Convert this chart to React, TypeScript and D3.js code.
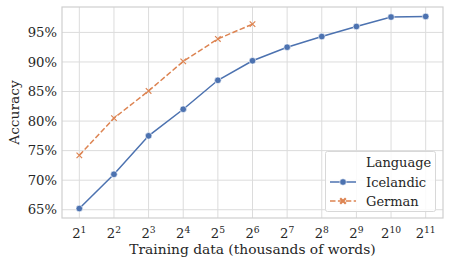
import React, { useEffect, useRef } from 'react';
import * as d3 from 'd3';

const exponents = [1, 2, 3, 4, 5, 6, 7, 8, 9, 10, 11];
const icelandic = [65.2, 71.0, 77.5, 82.0, 86.9, 90.2, 92.5, 94.3, 96.0, 97.6, 97.7];
const german = [74.2, 80.5, 85.1, 90.1, 93.9, 96.4];
const yTicks = [65, 70, 75, 80, 85, 90, 95];

const BLUE = '#4c72b0';
const ORANGE = '#dd8452';
const FONT = '"DejaVu Serif", serif';

export default function App() {
	const ref = useRef<SVGSVGElement>(null);

	useEffect(() => {
		const svg = d3.select(ref.current);
		svg.selectAll('*').remove();

		const margin = { top: 7, right: 6, bottom: 47, left: 62 };
		const width = 449, height = 265;

		const x = d3.scaleLinear().domain([0.5, 11.5]).range([margin.left, width - margin.right]);
		const y = d3.scaleLinear().domain([63.6, 99.3]).range([height - margin.bottom, margin.top]);

		const g = svg.append('g');

		// grid
		g.selectAll('line.vg').data(exponents).enter().append('line')
			.attr('x1', d => x(d)).attr('x2', d => x(d))
			.attr('y1', margin.top).attr('y2', height - margin.bottom)
			.attr('stroke', '#dcdcdc').attr('stroke-width', 1);
		g.selectAll('line.hg').data(yTicks).enter().append('line')
			.attr('y1', d => y(d)).attr('y2', d => y(d))
			.attr('x1', margin.left).attr('x2', width - margin.right)
			.attr('stroke', '#dcdcdc').attr('stroke-width', 1);

		// frame
		g.append('rect')
			.attr('x', margin.left).attr('y', margin.top)
			.attr('width', width - margin.left - margin.right)
			.attr('height', height - margin.top - margin.bottom)
			.attr('fill', 'none').attr('stroke', '#cfcfcf').attr('stroke-width', 1.2);

		// y tick labels
		g.selectAll('text.yt').data(yTicks).enter().append('text')
			.attr('x', margin.left - 5).attr('y', d => y(d)).attr('dy', '0.35em')
			.attr('text-anchor', 'end')
			.style('font', `13.2px ${FONT}`).attr('fill', '#262626')
			.text(d => d + '%');

		// x tick labels 2^n
		const xt = g.selectAll('text.xt').data(exponents).enter().append('text')
			.attr('x', d => x(d)).attr('y', height - margin.bottom + 20)
			.attr('text-anchor', 'middle')
			.style('font', `13.2px ${FONT}`).attr('fill', '#262626');
		xt.append('tspan').text('2');
		xt.append('tspan').attr('dy', -5.5).style('font-size', '9.2px').text(d => String(d));

		// axis labels
		g.append('text')
			.attr('x', (margin.left + width - margin.right) / 2).attr('y', height - 11)
			.attr('text-anchor', 'middle')
			.style('font', `13.8px ${FONT}`).attr('fill', '#262626')
			.text('Training data (thousands of words)');
		g.append('text')
			.attr('transform', `translate(19,${(margin.top + height - margin.bottom) / 2}) rotate(-90)`)
			.attr('text-anchor', 'middle')
			.style('font', `13.8px ${FONT}`).attr('fill', '#262626')
			.text('Accuracy');

		const line = d3.line<number>().x((d, i) => x(exponents[i])).y(d => y(d));

		// German
		g.append('path').datum(german).attr('d', line)
			.attr('fill', 'none').attr('stroke', ORANGE).attr('stroke-width', 1.5)
			.attr('stroke-dasharray', '5.5,2.4');
		const cross = d3.symbol().type(d3.symbolX).size(22);
		g.selectAll('path.gm').data(german).enter().append('path')
			.attr('d', cross)
			.attr('transform', (d, i) => `translate(${x(exponents[i])},${y(d)})`)
			.attr('fill', 'none').attr('stroke', ORANGE).attr('stroke-width', 1.2);

		// Icelandic
		g.append('path').datum(icelandic).attr('d', line)
			.attr('fill', 'none').attr('stroke', BLUE).attr('stroke-width', 1.5);
		g.selectAll('circle.im').data(icelandic).enter().append('circle')
			.attr('cx', (d, i) => x(exponents[i])).attr('cy', d => y(d)).attr('r', 3.3)
			.attr('fill', BLUE).attr('stroke', 'white').attr('stroke-width', 0.6);

		// legend
		const lg = g.append('g');
		lg.append('rect')
			.attr('x', 325.5).attr('y', 151.5).attr('width', 110).attr('height', 60).attr('rx', 2)
			.attr('fill', 'white').attr('fill-opacity', 0.85)
			.attr('stroke', '#d8d8d8').attr('stroke-width', 1);
		lg.append('text').attr('x', 366).attr('y', 167)
			.style('font', `13px ${FONT}`).attr('fill', '#262626').text('Language');
		const items = [
			{ name: 'Icelandic', color: BLUE, dash: null, y: 182 },
			{ name: 'German', color: ORANGE, dash: '5.5,2.4', y: 201 },
		];
		items.forEach(it => {
			lg.append('line').attr('x1', 330).attr('x2', 356).attr('y1', it.y).attr('y2', it.y)
				.attr('stroke', it.color).attr('stroke-width', 1.5)
				.attr('stroke-dasharray', it.dash);
			if (it.dash) {
				lg.append('path').attr('d', cross).attr('transform', `translate(343,${it.y})`)
					.attr('fill', 'none').attr('stroke', it.color).attr('stroke-width', 2.2);
			} else {
				lg.append('circle').attr('cx', 343).attr('cy', it.y).attr('r', 3.3)
					.attr('fill', it.color).attr('stroke', 'white').attr('stroke-width', 0.6);
			}
			lg.append('text').attr('x', 366).attr('y', it.y).attr('dy', '0.35em')
				.style('font', `13px ${FONT}`).attr('fill', '#262626').text(it.name);
		});
	}, []);

	return (
		<div style={{ position: 'absolute', left: 0, top: 0 }}>
			<svg ref={ref} width={449} height={265} style={{ display: 'block', background: 'white' }} />
		</div>
	);
}
